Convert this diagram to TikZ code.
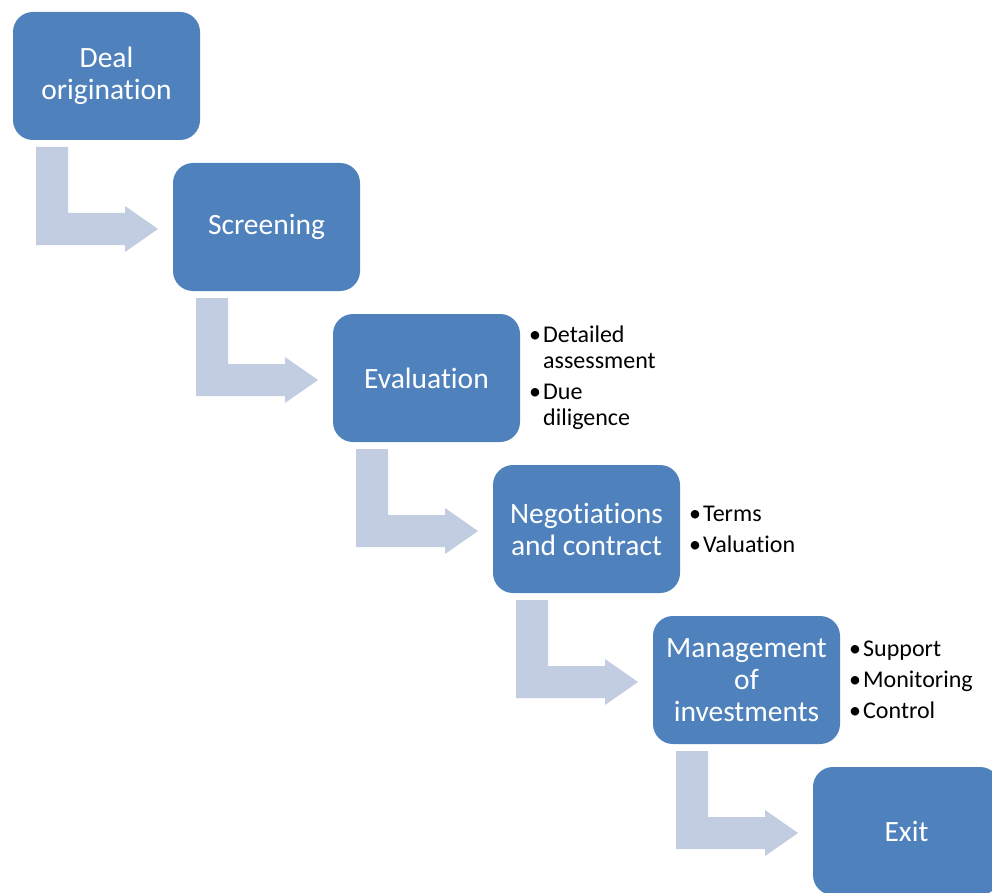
\documentclass[tikz,border=0pt]{standalone}
\usepackage{fontspec}
\setmainfont{Carlito}[Ligatures=NoCommon]
\usepackage{xcolor}
\usetikzlibrary{calc, positioning}
\definecolor{stepblue}{HTML}{4F81BD}
\definecolor{flowgray}{HTML}{C3CDE2}
\tikzset{
  stage/.style={fill=stepblue, text=white, rounded corners=20pt, minimum width=187pt,
    minimum height=128pt, inner sep=0pt, outer sep=0pt, align=center,
    font=\fontsize{29.5}{32}\selectfont},
  notes/.style={align=left, inner sep=0pt, font=\fontsize{24}{26}\selectfont},
  flow/.style={fill=flowgray}
}
\newcommand{\bul}{\makebox[14pt][l]{•}}
\newcommand{\ind}{\hspace*{14pt}}

\begin{document}
\begin{tikzpicture}[x=1pt, y=1pt]
\clip (0,0) rectangle (992,-893);
\fill[white] (0,0) rectangle (992,-893);
\node[stage, anchor=north west] (orig) at (13,-12) {Deal\\origination};
\node[stage, below right=23pt and -27pt of orig] (screen) {Screening};
\node[stage, below right=23pt and -27pt of screen] (eval) {Evaluation};
\node[stage, below right=23pt and -27pt of eval] (nego) {Negotiations\\and contract};
\node[stage, below right=23pt and -27pt of nego] (manage) {Management\\of\\investments};
\node[stage, below right=23pt and -27pt of manage] (exit) {Exit};

\node[notes, right=9pt of eval] (evalnotes) {\bul Detailed\\\ind assessment\\[5pt]\bul Due\\\ind diligence};
\node[notes, right=9pt of nego] (negonotes) {\bul Terms\\[5pt]\bul Valuation};
\node[notes, right=9pt of manage] (managenotes) {\bul Support\\[5pt]\bul Monitoring\\[5pt]\bul Control};

% bent arrows between the stages
\foreach \from in {orig, screen, eval, nego, manage}
  \fill[flow] ([shift={(23,-7)}]\from.south west) -- ++(32,0) -- ++(0,-66) -- ++(57,0)
    -- ++(0,7) -- ++(33,-23) -- ++(-33,-23) -- ++(0,7) -- ++(-89,0) -- cycle;
\end{tikzpicture}
\end{document}
